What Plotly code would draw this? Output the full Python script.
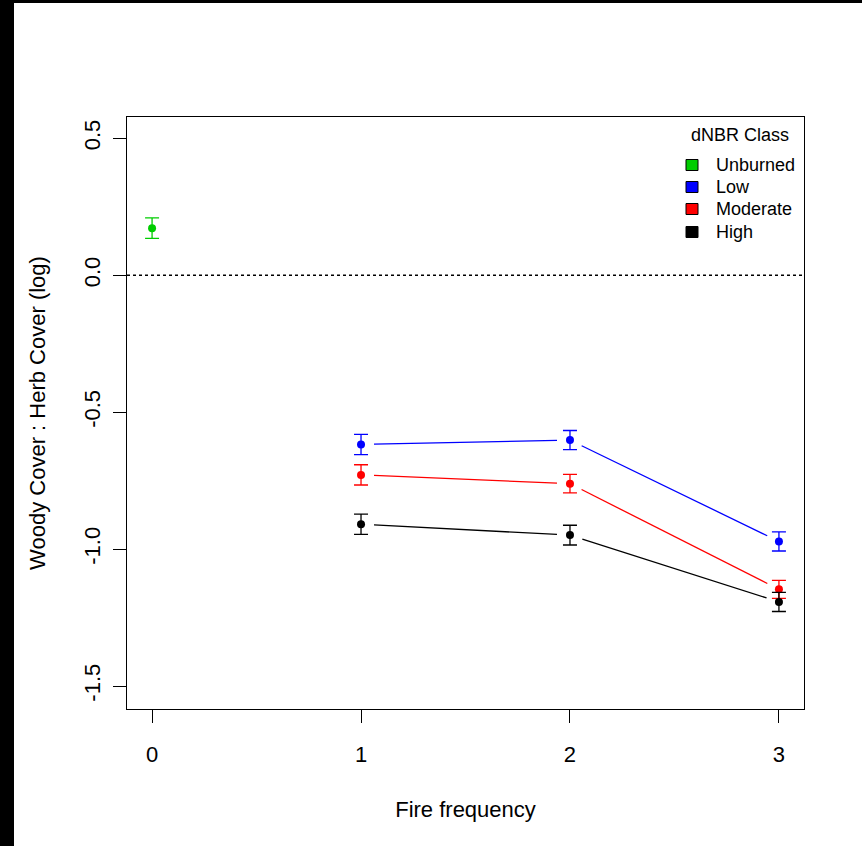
import plotly.graph_objects as go
import math

# ---- data ----
fire_freq = [1, 2, 3]
unburned_x = [0]
unburned_mean = [0.172]
unburned_se = [0.0375]
low_mean = [-0.618, -0.602, -0.972]
low_se = [0.037, 0.035, 0.035]
moderate_mean = [-0.729, -0.761, -1.147]
moderate_se = [0.037, 0.034, 0.033]
high_mean = [-0.909, -0.949, -1.193]
high_se = [0.037, 0.036, 0.035]

x_ticks = [0, 1, 2, 3]
y_ticks = [-1.5, -1.0, -0.5, 0.0, 0.5]
y_tick_text = ["-1.5", "-1.0", "-0.5", "0.0", "0.5"]
legend_labels = ["Unburned", "Low", "Moderate", "High"]
legend_colors = ["#00CD00", "#0000FF", "#FF0000", "#000000"]

# ---- layout geometry ----
W, H = 862, 846
ML, MR, MT, MB = 127, 58, 117, 137
PW, PH = W - ML - MR, H - MT - MB
XR = [-0.12, 3.12]
YR = [-1.584, 0.578]
FONT = "Liberation Sans, Arial, sans-serif"
LW = 1.3

fig = go.Figure()


def gapped_segments(xs, ys, gap_px=13):
    """Line segments between points with R type='b' style gaps."""
    sx = PW / (XR[1] - XR[0])
    sy = PH / (YR[1] - YR[0])
    gx, gy = [], []
    for i in range(len(xs) - 1):
        dxp = (xs[i + 1] - xs[i]) * sx
        dyp = (ys[i + 1] - ys[i]) * sy
        L = math.hypot(dxp, dyp)
        fx = gap_px / L
        x0 = xs[i] + (xs[i + 1] - xs[i]) * fx
        y0 = ys[i] + (ys[i + 1] - ys[i]) * fx
        x1 = xs[i + 1] - (xs[i + 1] - xs[i]) * fx
        y1 = ys[i + 1] - (ys[i + 1] - ys[i]) * fx
        gx += [x0, x1, None]
        gy += [y0, y1, None]
    return gx, gy


series = [
    ("Low", low_mean, low_se, legend_colors[1]),
    ("Moderate", moderate_mean, moderate_se, legend_colors[2]),
    ("High", high_mean, high_se, legend_colors[3]),
]

for name, m, se, col in series:
    gx, gy = gapped_segments(fire_freq, m)
    fig.add_trace(go.Scatter(x=gx, y=gy, mode="lines",
                             line=dict(color=col, width=LW),
                             showlegend=False, hoverinfo="skip"))
    fig.add_trace(go.Scatter(x=fire_freq, y=m, mode="markers", name=name,
                             marker=dict(color=col, size=8),
                             error_y=dict(type="data", array=se, color=col,
                                          thickness=LW, width=7),
                             showlegend=False))

fig.add_trace(go.Scatter(x=unburned_x, y=unburned_mean, mode="markers",
                         name="Unburned",
                         marker=dict(color=legend_colors[0], size=8),
                         error_y=dict(type="data", array=unburned_se,
                                      color=legend_colors[0], thickness=LW, width=7),
                         showlegend=False))

shapes = []
# dotted zero line
shapes.append(dict(type="line", xref="paper", x0=0, x1=1, yref="y", y0=0, y1=0,
                   line=dict(color="black", width=LW, dash="dot")))
# black frame bands of the original image
shapes.append(dict(type="rect", xref="paper", yref="paper",
                   x0=-ML / PW, x1=-(ML - 14) / PW, y0=-MB / PH, y1=1 + MT / PH,
                   fillcolor="black", line=dict(width=0), layer="above"))
shapes.append(dict(type="rect", xref="paper", yref="paper",
                   x0=-ML / PW, x1=1 + MR / PW, y0=1 + (MT - 3) / PH, y1=1 + MT / PH,
                   fillcolor="black", line=dict(width=0), layer="above"))

annotations = []
# legend (manual, R-style without box)
annotations.append(dict(text="dNBR Class", xref="paper", yref="paper",
                        x=(740 - ML) / PW, y=1 - (135 - MT) / PH,
                        xanchor="center", yanchor="middle", showarrow=False,
                        font=dict(family=FONT, size=18, color="black")))
leg_y = [165, 187, 209, 232]
for lab, col, py in zip(legend_labels, legend_colors, leg_y):
    yc = 1 - (py - MT) / PH
    shapes.append(dict(type="rect", xref="paper", yref="paper",
                       x0=(686 - ML) / PW, x1=(698 - ML) / PW,
                       y0=yc - 5.5 / PH, y1=yc + 5.5 / PH,
                       fillcolor=col, line=dict(color="black", width=1)))
    annotations.append(dict(text=lab, xref="paper", yref="paper",
                            x=(714 - ML) / PW, y=yc, xanchor="left",
                            yanchor="middle", showarrow=False,
                            font=dict(family=FONT, size=18, color="black")))

fig.update_layout(
    width=W, height=H,
    margin=dict(l=ML, r=MR, t=MT, b=MB),
    paper_bgcolor="white", plot_bgcolor="white",
    font=dict(family=FONT, size=22, color="black"),
    shapes=shapes, annotations=annotations,
    showlegend=False,
    xaxis=dict(range=XR, tickvals=x_ticks, ticktext=[str(v) for v in x_ticks],
               ticks="outside", ticklen=13, tickwidth=LW, tickcolor="black",
               showline=True, linecolor="black", linewidth=LW, mirror=True,
               showgrid=False, zeroline=False, ticklabelstandoff=12,
               title=dict(text="Fire frequency", standoff=36,
                          font=dict(family=FONT, size=22))),
    yaxis=dict(range=YR, tickvals=y_ticks, ticktext=y_tick_text, tickangle=-90,
               ticks="outside", ticklen=13, tickwidth=LW, tickcolor="black",
               showline=True, linecolor="black", linewidth=LW, mirror=True,
               showgrid=False, zeroline=False, ticklabelstandoff=4,
               title=dict(text="Woody Cover : Herb Cover (log)", standoff=28,
                          font=dict(family=FONT, size=22))),
)

fig.write_html("out.html",
               config={"displayModeBar": False},
               post_script="document.body.style.margin='0';"
                           "document.body.style.overflow='hidden';")
